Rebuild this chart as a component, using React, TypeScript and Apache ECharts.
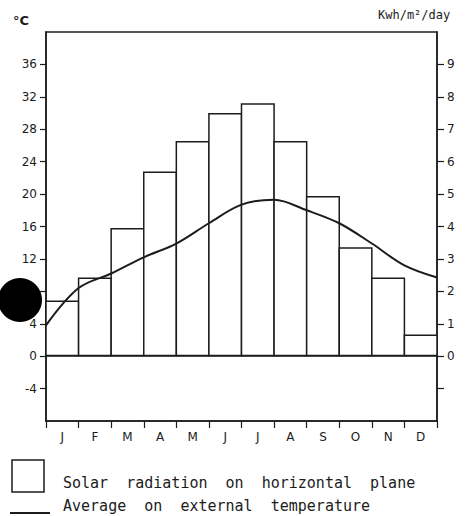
import React, { useEffect, useRef } from "react";
import * as echarts from "echarts";

const months = ["J", "F", "M", "A", "M", "J", "J", "A", "S", "O", "N", "D"];
// Solar radiation on horizontal plane (kWh/m²/day), right axis
const solarRadiation = [1.72, 2.43, 3.95, 5.7, 6.64, 7.5, 7.8, 6.64, 4.94, 3.36, 2.43, 0.67];
// Average external temperature (°C), read at month boundaries 0..12
const tempPositions = [0, 1, 2, 3, 4, 5, 6, 7, 8, 9, 10, 11, 12];
const temperature = [3.8, 8.4, 10.2, 12.2, 13.9, 16.4, 18.7, 19.3, 18.0, 16.4, 13.9, 11.2, 9.7];
const leftTicks = [-4, 0, 4, 8, 12, 16, 20, 24, 28, 32, 36];
const rightTicks = [-1, 0, 1, 2, 3, 4, 5, 6, 7, 8, 9];
const rightLabels = [0, 1, 2, 3, 4, 5, 6, 7, 8, 9];

const INK = "#1c1c1c";
const W = 471;
const GRID_LEFT = 46;
const GRID_RIGHT = 34;
const BAR_BORDER = 1.5;

export default function App() {
  const ref = useRef<HTMLDivElement>(null);
  useEffect(() => {
    if (!ref.current) return;
    const chart = echarts.init(ref.current, null, { renderer: "svg" });
    const labelFont = { color: INK, fontFamily: "DejaVu Sans", fontSize: 12 };
    const band = (W - GRID_LEFT - GRID_RIGHT) / months.length;
    chart.setOption({
      animation: false,
      backgroundColor: "#ffffff",
      grid: {
        left: GRID_LEFT,
        right: GRID_RIGHT,
        top: 32,
        bottom: 95,
        show: true,
        borderColor: INK,
        borderWidth: 1.5,
        backgroundColor: "transparent",
      },
      xAxis: [
        {
          type: "category",
          data: months,
          boundaryGap: true,
          axisLine: { show: true, onZero: false, lineStyle: { color: INK, width: 1.5 } },
          axisTick: { show: true, length: 7, lineStyle: { color: INK, width: 1.2 } },
          axisLabel: { ...labelFont, margin: 10 },
          splitLine: { show: false },
        },
        {
          type: "value",
          min: 0,
          max: 12,
          show: false,
        },
      ],
      yAxis: [
        {
          type: "value",
          position: "left",
          min: -8,
          max: 40,
          interval: 4,
          axisLine: { show: true, lineStyle: { color: INK, width: 1.5 } },
          axisTick: {
            show: true,
            length: 6,
            customValues: leftTicks,
            lineStyle: { color: INK, width: 1.2 },
          },
          axisLabel: { ...labelFont, margin: 9, customValues: leftTicks },
          splitLine: { show: false },
        },
        {
          type: "value",
          position: "right",
          min: -2,
          max: 10,
          interval: 1,
          axisLine: { show: true, lineStyle: { color: INK, width: 1.5 } },
          axisTick: {
            show: true,
            length: 7,
            customValues: rightTicks,
            lineStyle: { color: INK, width: 1.2 },
          },
          axisLabel: { ...labelFont, margin: 10, customValues: rightLabels },
          splitLine: { show: false },
        },
      ],
      series: [
        {
          name: "Solar radiation on horizontal plane",
          type: "bar",
          xAxisIndex: 0,
          yAxisIndex: 1,
          data: solarRadiation,
          barWidth: band + BAR_BORDER,
          barCategoryGap: "0%",
          itemStyle: { color: "#ffffff", borderColor: INK, borderWidth: BAR_BORDER },
        },
        {
          name: "Average on external temperature",
          type: "line",
          xAxisIndex: 1,
          yAxisIndex: 0,
          data: tempPositions.map((x, i) => [x, temperature[i]]),
          smooth: 0.35,
          symbol: "none",
          lineStyle: { color: INK, width: 2 },
          markLine: {
            silent: true,
            symbol: "none",
            label: { show: false },
            lineStyle: { color: INK, width: 1.5, type: "solid" },
            data: [{ yAxis: 0 }],
          },
          z: 5,
        },
      ],
      graphic: [
        {
          type: "text",
          left: 13,
          top: 14,
          style: { text: "°C", fill: INK, font: "bold 13px DejaVu Sans" },
        },
        {
          type: "text",
          left: 378,
          top: 9,
          style: { text: "Kwh/m²/day", fill: INK, font: "12px DejaVu Sans Mono" },
        },
        {
          type: "circle",
          shape: { cx: 20, cy: 300, r: 22 },
          style: { fill: "#000000" },
          z: 100,
        },
        {
          type: "rect",
          shape: { x: 12, y: 460, width: 32, height: 32 },
          style: { fill: "#ffffff", stroke: INK, lineWidth: 1.5 },
        },
        {
          type: "line",
          shape: { x1: 10, y1: 513, x2: 50, y2: 513 },
          style: { stroke: INK, lineWidth: 2 },
        },
        {
          type: "text",
          x: 63,
          y: 483,
          style: {
            text: "Solar  radiation  on  horizontal  plane",
            fill: INK,
            font: "15px DejaVu Sans Mono",
            verticalAlign: "middle",
          },
        },
        {
          type: "text",
          x: 63,
          y: 506,
          style: {
            text: "Average  on  external  temperature",
            fill: INK,
            font: "15px DejaVu Sans Mono",
            verticalAlign: "middle",
          },
        },
      ],
    });
    return () => chart.dispose();
  }, []);
  return (
    <div
      ref={ref}
      style={{ position: "absolute", left: 0, top: 0, width: W, height: 516, background: "#fff" }}
    />
  );
}
